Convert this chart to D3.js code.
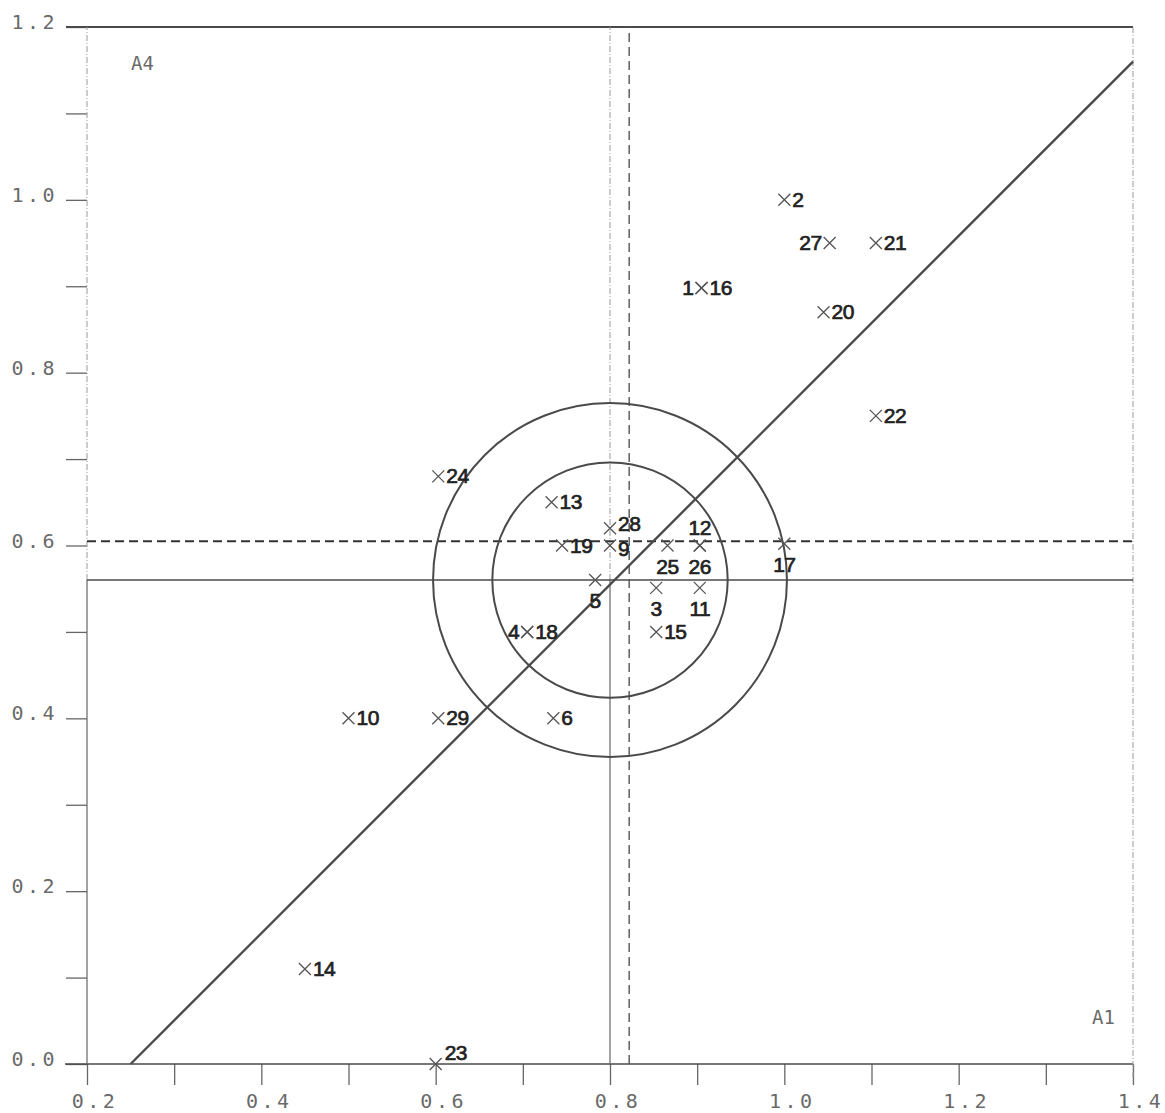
<!DOCTYPE html>
<html>
<head>
<meta charset="utf-8">
<script src="https://cdn.jsdelivr.net/npm/d3@7"></script>
<style>
  body { margin: 0; background: #fff; }
</style>
</head>
<body>
<svg id="chart" width="1165" height="1113"></svg>
<script>
// point data (A1 on x, A4 on y)
var pointIds = [1, 16, 2, 3, 4, 5, 6, 9, 10, 11, 12, 13, 14, 15, 17, 18, 19, 20, 21, 22, 23, 24, 25, 26, 27, 28, 29];
var pointA1  = [0.905, 0.905, 1.0, 0.853, 0.705, 0.783, 0.735, 0.8, 0.5, 0.903, 0.903, 0.733, 0.45, 0.853, 1.0, 0.705, 0.745, 1.045, 1.105, 1.105, 0.6, 0.603, 0.866, 0.903, 1.052, 0.8, 0.603];
var pointA4  = [0.898, 0.898, 1.0, 0.551, 0.5, 0.56, 0.4, 0.6, 0.4, 0.551, 0.6, 0.65, 0.11, 0.5, 0.602, 0.5, 0.6, 0.87, 0.95, 0.75, 0.0, 0.68, 0.6, 0.6, 0.95, 0.62, 0.4];

// axis ticks
var xTicks = [0.2, 0.3, 0.4, 0.5, 0.6, 0.7, 0.8, 0.9, 1.0, 1.1, 1.2, 1.3, 1.4];
var yTicks = [0.0, 0.1, 0.2, 0.3, 0.4, 0.5, 0.6, 0.7, 0.8, 0.9, 1.0, 1.1, 1.2];
var xTickLabels = ["0.2", "0.4", "0.6", "0.8", "1.0", "1.2", "1.4"];
var yTickLabels = ["0.0", "0.2", "0.4", "0.6", "0.8", "1.0", "1.2"];

// reference lines and circles
var centreA1 = 0.8, centreA4 = 0.56;
var dashedA1 = 0.822, dashedA4 = 0.605;
var circleRadii = [0.135, 0.203];
var diagonal = [[0.25, 0.0], [1.4, 1.16]];

var svg = d3.select("#chart"),
    width = +svg.attr("width"),
    height = +svg.attr("height");

svg.append("rect").attr("width", width).attr("height", height).attr("fill", "#fff");

var x = d3.scaleLinear().domain([0.2, 1.4]).range([87, 1133]);
var y = d3.scaleLinear().domain([0, 1.2]).range([1064, 27]);

var grey = "#4a4a4a";

// tick marks through d3 axes
var xAxis = svg.append("g")
    .attr("transform", "translate(0," + y(0) + ")")
    .call(d3.axisBottom(x).tickValues(xTicks).tickSize(21).tickSizeOuter(0).tickFormat(""));
var yAxis = svg.append("g")
    .attr("transform", "translate(" + x(0.2) + ",0)")
    .call(d3.axisLeft(y).tickValues(yTicks).tickSize(21).tickSizeOuter(0).tickFormat(""));
[xAxis, yAxis].forEach(function(a) {
  a.select(".domain").remove();
  a.selectAll(".tick line").attr("stroke", "#666").attr("stroke-width", 1.3);
});

// tick labels (plotter style mono)
svg.append("g").selectAll("text")
  .data(xTickLabels).enter().append("text")
    .attr("x", function(d) { return x(+d) + 8; })
    .attr("y", 1108)
    .attr("text-anchor", "middle")
    .style("font-family", "DejaVu Sans Mono")
    .style("font-size", "20px")
    .style("letter-spacing", "3.5px")
    .style("fill", "#6a6a6a")
    .text(function(d) { return d; });

svg.append("g").selectAll("text")
  .data(yTickLabels).enter().append("text")
    .attr("x", 58)
    .attr("y", function(d) { return y(+d) + 2; })
    .attr("text-anchor", "end")
    .style("font-family", "DejaVu Sans Mono")
    .style("font-size", "20px")
    .style("letter-spacing", "3.5px")
    .style("fill", "#6a6a6a")
    .text(function(d) { return d; });

// frame
svg.append("line")
  .attr("x1", 65).attr("x2", x(1.4)).attr("y1", y(0)).attr("y2", y(0))
  .attr("stroke", grey).attr("stroke-width", 1.6);
svg.append("line")
  .attr("x1", 66).attr("x2", x(1.4)).attr("y1", y(1.2)).attr("y2", y(1.2))
  .attr("stroke", grey).attr("stroke-width", 1.8);
svg.append("line")
  .attr("x1", x(1.4)).attr("x2", x(1.4)).attr("y1", y(1.2)).attr("y2", y(0) + 20)
  .attr("stroke", "#999").attr("stroke-width", 1).attr("stroke-dasharray", "6,2,1,2");

// left axis and x = 0.8 line: solid below the centre, dotted above
[x(0.2), x(centreA1)].forEach(function(px) {
  svg.append("line")
    .attr("x1", px).attr("x2", px).attr("y1", y(0)).attr("y2", y(centreA4))
    .attr("stroke", "#666").attr("stroke-width", 1.2);
  svg.append("line")
    .attr("x1", px).attr("x2", px).attr("y1", y(centreA4)).attr("y2", y(1.2))
    .attr("stroke", "#999").attr("stroke-width", 1).attr("stroke-dasharray", "6,2,1,2");
});

// solid horizontal through the centre
svg.append("line")
  .attr("x1", x(0.2)).attr("x2", x(1.4)).attr("y1", y(centreA4)).attr("y2", y(centreA4))
  .attr("stroke", grey).attr("stroke-width", 1.5);

// dashed lines
svg.append("line")
  .attr("x1", x(0.2)).attr("x2", x(1.4)).attr("y1", y(dashedA4)).attr("y2", y(dashedA4))
  .attr("stroke", "#333").attr("stroke-width", 2).attr("stroke-dasharray", "9,5");
svg.append("line")
  .attr("x1", x(dashedA1)).attr("x2", x(dashedA1)).attr("y1", y(0)).attr("y2", y(1.2))
  .attr("stroke", "#555").attr("stroke-width", 1.4).attr("stroke-dasharray", "9,5");

// circles around the centre
svg.append("g").selectAll("circle")
  .data(circleRadii).enter().append("circle")
    .attr("cx", x(centreA1))
    .attr("cy", y(centreA4))
    .attr("r", function(d) { return x(centreA1 + d) - x(centreA1); })
    .attr("fill", "none")
    .attr("stroke", grey)
    .attr("stroke-width", 2);

// diagonal line
svg.append("path")
  .datum(diagonal)
  .attr("d", d3.line().x(function(d) { return x(d[0]); }).y(function(d) { return y(d[1]); }))
  .attr("fill", "none")
  .attr("stroke", grey)
  .attr("stroke-width", 2.4);

// axis names
svg.append("text").attr("x", 131).attr("y", 70)
  .style("font-family", "DejaVu Sans Mono").style("font-size", "19px").style("fill", "#6a6a6a")
  .text("A4");
svg.append("text").attr("x", 1092).attr("y", 1024)
  .style("font-family", "DejaVu Sans Mono").style("font-size", "19px").style("fill", "#6a6a6a")
  .text("A1");

// points
var points = pointIds.map(function(id, i) { return { id: id, a1: pointA1[i], a4: pointA4[i] }; });

svg.append("g").selectAll("path")
  .data(points).enter().append("path")
    .attr("transform", function(d) { return "translate(" + x(d.a1) + "," + y(d.a4) + ")"; })
    .attr("d", "M-6,-6L6,6M-6,6L6,-6")
    .attr("stroke", "#555")
    .attr("stroke-width", 1.3)
    .attr("fill", "none");

// where each label sits relative to its cross
var side = { 1: "l", 27: "l", 4: "l", 12: "a", 3: "b", 5: "b", 11: "b", 17: "b", 25: "b", 26: "b", 23: "ar", 28: "ru", 9: "rd" };
var offsets = {
  r:  { dx: 8,   dy: 7,   anchor: "start" },
  ru: { dx: 8,   dy: 3,   anchor: "start" },
  rd: { dx: 8,   dy: 10,  anchor: "start" },
  l:  { dx: -8,  dy: 7,   anchor: "end" },
  a:  { dx: 0,   dy: -11, anchor: "middle" },
  b:  { dx: 0,   dy: 28,  anchor: "middle" },
  ar: { dx: 9,   dy: -4,  anchor: "start" }
};

svg.append("g").selectAll("text")
  .data(points).enter().append("text")
    .each(function(d) {
      var o = offsets[side[d.id] || "r"];
      d3.select(this)
        .attr("x", x(d.a1) + o.dx)
        .attr("y", y(d.a4) + o.dy)
        .attr("text-anchor", o.anchor);
    })
    .style("font-family", "Liberation Sans, Arial, sans-serif")
    .style("font-size", "21px")
    .style("fill", "#222")
    .style("stroke", "#222")
    .style("stroke-width", "0.7px")
    .style("letter-spacing", "-0.5px")
    .text(function(d) { return d.id; });
</script>
</body>
</html>
